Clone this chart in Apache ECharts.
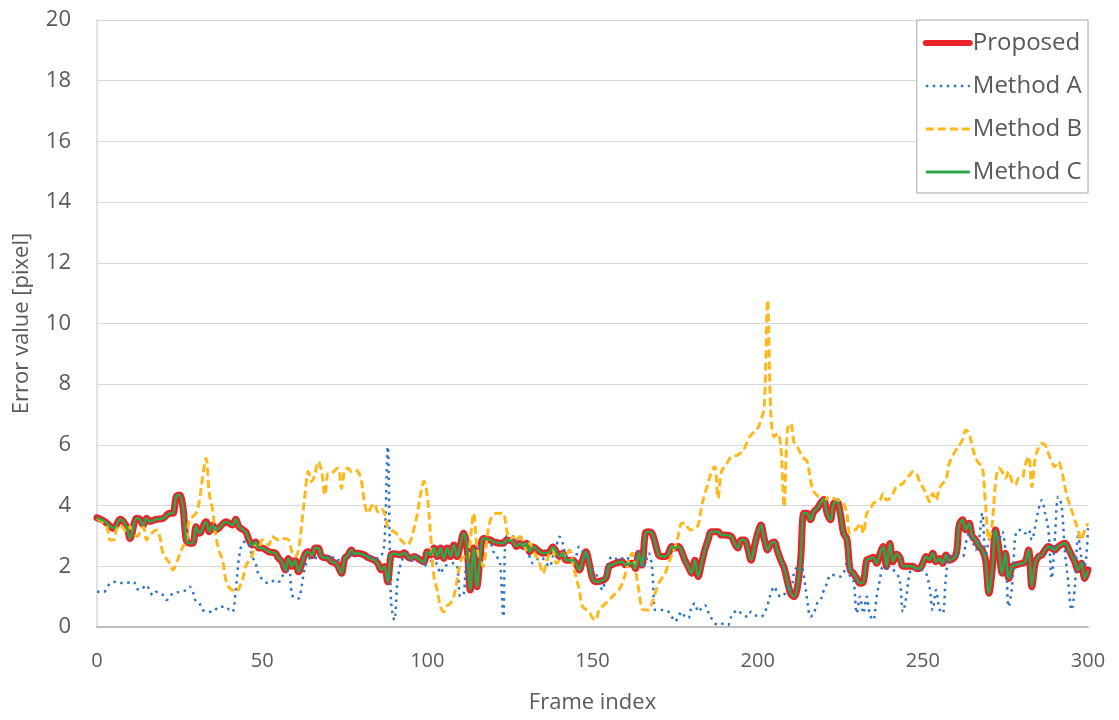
<!DOCTYPE html>
<html>
<head>
<meta charset="utf-8">
<script src="https://cdn.jsdelivr.net/npm/echarts@6/dist/echarts.min.js"></script>
<style>
  html, body { margin: 0; padding: 0; background: #ffffff; }
  #chart { width: 1119px; height: 720px; }
</style>
</head>
<body>
<div id="chart"></div>
<script>
// Per-frame tracking error, [frame index, error in pixels]
const proposed = [
  [0,3.6],[2,3.5],[3,3.42],[5,3.25],[7,3.55],[9,3.3],[10,2.92],[12,3.58],[13,3.55],[14,3.36],
  [15,3.58],[16,3.48],[18,3.55],[20,3.58],[22,3.75],[23,3.75],[24,4.3],[25,4.35],[26,3.96],[27,2.87],
  [28,2.76],[29,2.76],[30,3.3],[31,3.09],[33,3.47],[34,3.14],[35,3.36],[36,3.2],[38,3.39],[39,3.47],
  [41,3.36],[42,3.55],[43,3.3],[45,3.14],[46,2.87],[47,2.7],[48,2.8],[49,2.6],[50,2.6],[52,2.48],
  [54,2.43],[55,2.26],[56,2.15],[57,1.88],[58,2.26],[59,2.0],[60,2.2],[61,1.82],[62,2.1],[63,2.4],
  [64,2.48],[65,2.35],[66,2.6],[67,2.6],[68,2.32],[70,2.26],[71,2.15],[72,2.12],[73,2.0],[74,1.77],
  [75,2.26],[76,2.37],[77,2.54],[78,2.41],[79,2.43],[81,2.37],[82,2.29],[84,2.2],[85,2.1],[86,1.88],
  [87,1.99],[88,1.49],[89,2.37],[90,2.41],[92,2.37],[93,2.45],[94,2.32],[95,2.26],[96,2.32],[98,2.2],
  [99,2.15],[100,2.48],[101,2.37],[102,2.6],[103,2.32],[104,2.6],[105,2.26],[106,2.6],[107,2.32],[108,2.7],
  [109,2.32],[110,2.7],[111,3.09],[112,2.64],[113,1.22],[114,2.6],[115,1.33],[116,2.3],[117,2.92],[119,2.87],
  [120,2.81],[122,2.76],[123,2.76],[124,2.87],[126,2.81],[127,2.65],[128,2.76],[129,2.65],[130,2.76],[131,2.48],
  [132,2.64],[134,2.48],[135,2.43],[137,2.48],[138,2.64],[139,2.48],[140,2.32],[141,2.43],[142,2.2],[144,2.2],
  [145,2.1],[146,1.88],[147,2.2],[148,2.48],[149,2.1],[150,1.6],[151,1.49],[152,1.5],[154,1.6],[155,2.0],
  [156,2.05],[157,2.1],[159,2.15],[160,2.05],[162,2.1],[163,1.93],[164,2.43],[165,2.04],[166,3.09],[167,3.14],
  [168,3.09],[169,2.76],[170,2.37],[171,2.32],[172,2.32],[173,2.43],[174,2.65],[175,2.6],[176,2.65],[177,2.48],
  [178,2.2],[179,1.99],[180,1.77],[181,2.2],[182,1.66],[183,2.1],[184,2.54],[185,2.87],[186,3.14],[188,3.14],
  [189,3.03],[190,3.03],[192,2.98],[193,2.76],[194,2.6],[195,2.87],[196,2.87],[197,2.6],[198,2.2],[199,2.65],
  [200,3.09],[201,3.36],[202,2.9],[203,2.54],[204,2.75],[205,2.8],[206,2.5],[207,2.2],[208,1.95],[209,1.5],
  [210,1.1],[211,1.0],[212,1.3],[213,2.2],[214,3.75],[215,3.75],[216,3.53],[217,3.8],[218,3.9],[219,4.07],
  [220,4.2],[221,3.75],[222,3.53],[223,4.07],[224,4.13],[225,3.75],[226,3.09],[227,2.9],[228,1.88],[229,1.77],
  [230,1.6],[231,1.44],[232,1.49],[233,2.2],[234,2.25],[235,2.3],[236,2.1],[237,2.4],[238,2.65],[239,1.99],
  [240,2.75],[241,2.15],[242,2.4],[243,2.3],[244,2.0],[246,2.0],[247,2.0],[248,1.93],[249,1.93],[250,2.1],
  [251,2.32],[252,2.21],[253,2.43],[254,2.15],[255,2.26],[256,2.1],[257,2.37],[258,2.2],[260,2.37],[261,3.36],
  [262,3.53],[263,3.2],[264,3.42],[265,2.98],[266,2.87],[267,2.65],[268,2.54],[269,2.2],[270,1.11],[271,1.88],
  [272,3.2],[273,2.6],[274,1.77],[275,2.43],[276,1.6],[277,1.99],[278,2.04],[280,2.1],[281,2.15],[282,2.54],
  [283,1.33],[284,2.1],[285,2.32],[286,2.37],[287,2.54],[288,2.65],[290,2.54],[291,2.65],[293,2.76],[294,2.6],
  [295,2.37],[296,2.15],[297,1.88],[298,2.1],[299,1.6],[300,1.88]
];

const methodA = [
  [0,1.16],[2,1.16],[4,1.44],[6,1.49],[8,1.44],[11,1.49],[12,1.27],[13,1.22],[15,1.38],[16,1.16],
  [17,1.05],[18,1.16],[20,1.05],[21,0.89],[23,1.11],[25,1.16],[27,1.22],[28,1.33],[29,1.16],[30,0.83],
  [31,0.78],[32,0.56],[34,0.5],[35,0.5],[37,0.67],[39,0.67],[40,0.56],[41,0.5],[42,1.2],[43,2.3],
  [44,2.76],[45,2.81],[46,2.7],[47,2.32],[48,2.1],[49,1.71],[51,1.49],[52,1.44],[54,1.55],[55,1.49],
  [56,1.66],[58,1.88],[59,1.1],[60,0.94],[61,0.94],[62,1.38],[63,2.0],[64,2.2],[65,2.32],[67,2.26],
  [68,2.37],[70,2.32],[71,2.37],[72,2.2],[74,2.2],[76,2.32],[77,2.37],[79,2.43],[80,2.34],[82,2.37],
  [83,2.32],[85,2.26],[86,2.32],[87,2.76],[88,5.94],[89,0.89],[90,0.23],[91,1.55],[92,2.1],[93,2.32],
  [94,2.37],[95,2.2],[97,2.32],[98,2.2],[99,2.0],[100,2.1],[102,2.2],[103,2.04],[104,1.77],[105,1.99],
  [106,2.04],[108,2.1],[109,2.04],[110,1.0],[111,1.1],[112,2.1],[113,2.0],[114,2.32],[115,2.43],[116,2.65],
  [118,2.7],[119,2.76],[120,2.48],[121,2.32],[122,2.1],[123,0.34],[124,3.0],[126,2.98],[127,2.87],[128,3.03],
  [129,2.76],[130,2.65],[131,2.3],[132,2.1],[133,2.2],[134,2.3],[135,2.26],[136,2.1],[137,1.99],[138,2.32],
  [139,2.65],[140,2.97],[141,2.76],[142,2.32],[143,2.32],[144,2.1],[145,2.32],[146,2.65],[147,2.5],[148,2.32],
  [149,2.1],[150,1.88],[151,1.77],[152,1.44],[153,1.22],[154,1.77],[155,2.2],[156,2.32],[158,2.2],[159,2.26],
  [160,2.32],[162,2.1],[163,2.43],[164,2.48],[165,1.93],[166,2.1],[167,2.43],[168,1.99],[169,0.56],[170,0.56],
  [171,0.56],[173,0.5],[174,0.34],[175,0.18],[176,0.34],[177,0.5],[178,0.34],[179,0.29],[180,0.67],[181,0.78],
  [182,0.5],[183,0.62],[184,0.72],[185,0.5],[186,0.29],[188,0.07],[190,0.12],[191,0.07],[192,0.34],[194,0.56],
  [195,0.45],[197,0.34],[198,0.5],[199,0.4],[201,0.34],[202,0.45],[203,0.73],[204,1.11],[205,1.33],[206,1.11],
  [207,1.0],[208,1.05],[209,1.33],[210,1.22],[211,1.77],[212,1.99],[213,2.1],[214,1.66],[215,0.89],[216,0.34],
  [217,0.45],[218,0.78],[219,0.89],[220,1.2],[221,1.44],[222,1.71],[223,1.71],[225,1.66],[226,1.77],[227,2.1],
  [228,1.66],[229,1.55],[230,0.45],[231,1.0],[232,0.45],[233,1.0],[234,0.4],[235,0.23],[236,1.0],[237,1.55],
  [238,1.99],[240,1.9],[241,1.88],[242,1.77],[243,1.55],[244,0.5],[245,1.0],[246,1.77],[247,1.93],[249,1.88],
  [250,1.88],[251,1.77],[252,1.33],[253,0.56],[254,1.22],[255,0.6],[256,0.45],[257,1.66],[258,2.3],[260,2.37],
  [262,2.32],[263,2.76],[264,3.09],[265,2.87],[266,2.54],[267,2.87],[268,3.75],[269,2.32],[270,2.87],[271,3.09],
  [272,3.09],[273,2.87],[274,3.14],[275,2.5],[276,0.67],[277,1.33],[278,2.98],[279,3.2],[280,3.2],[281,3.09],
  [282,3.2],[283,2.87],[284,3.3],[285,3.86],[286,4.18],[287,3.75],[288,3.2],[289,1.6],[290,3.0],[291,4.29],
  [292,4.0],[293,2.5],[294,1.5],[295,0.56],[296,1.3],[297,3.0],[298,2.3],[299,1.99],[300,3.3]
];

const methodB = [
  [0,3.58],[2,3.42],[3,3.31],[4,2.87],[5,2.87],[6,3.25],[7,3.36],[9,3.14],[10,3.3],[11,3.14],
  [12,2.98],[14,3.3],[15,2.87],[16,3.03],[18,3.2],[19,2.98],[20,2.43],[22,2.1],[23,1.88],[24,2.1],
  [26,2.65],[27,2.76],[28,3.52],[30,3.75],[31,4.18],[32,4.95],[33,5.56],[34,4.4],[35,3.85],[36,2.98],
  [37,2.5],[38,2.2],[39,1.55],[40,1.3],[41,1.22],[42,1.16],[44,1.55],[45,1.99],[47,2.37],[48,2.76],
  [49,2.6],[50,2.87],[52,2.7],[53,2.98],[55,2.87],[56,2.92],[58,2.87],[59,2.48],[60,2.32],[61,2.54],
  [62,3.42],[63,4.4],[64,5.12],[65,4.79],[66,5.06],[67,5.45],[68,5.12],[69,4.35],[70,5.06],[71,5.06],
  [72,5.17],[73,5.23],[74,4.57],[75,5.17],[76,5.23],[77,5.12],[78,5.17],[79,5.12],[80,4.84],[81,4.07],
  [82,3.75],[83,3.96],[84,4.07],[85,3.8],[86,3.9],[87,3.75],[88,3.31],[89,3.2],[90,3.14],[91,3.03],
  [92,2.87],[93,2.76],[94,2.7],[95,2.87],[96,3.25],[97,3.75],[98,4.4],[99,4.8],[100,4.3],[101,3.0],
  [102,1.66],[103,1.2],[104,0.67],[105,0.5],[106,0.7],[107,0.78],[108,1.0],[109,1.55],[110,2.1],[111,2.32],
  [112,2.2],[113,2.87],[114,3.75],[115,2.65],[116,2.2],[117,2.0],[118,2.87],[119,3.5],[120,3.7],[121,3.75],
  [122,3.75],[123,3.75],[124,3.2],[125,2.87],[126,2.98],[127,2.87],[128,2.98],[129,2.76],[130,2.54],[131,2.76],
  [132,2.54],[133,2.32],[134,2.1],[135,1.77],[136,2.1],[137,2.43],[138,2.54],[139,2.1],[140,2.2],[141,2.43],
  [142,2.32],[143,2.54],[144,2.1],[145,1.66],[146,1.22],[147,0.67],[149,0.5],[150,0.3],[151,0.23],[152,0.56],
  [154,0.78],[155,0.89],[157,1.11],[158,1.22],[159,1.44],[160,1.77],[161,2.2],[162,2.43],[163,1.88],[164,1.22],
  [165,0.6],[166,0.56],[167,0.56],[168,0.78],[169,1.11],[170,1.44],[172,1.77],[173,2.1],[174,2.37],[175,2.65],
  [176,3.03],[177,3.42],[178,3.42],[179,3.25],[180,3.2],[181,3.25],[182,3.36],[183,3.96],[184,4.4],[185,4.73],
  [186,5.12],[187,5.28],[188,4.24],[189,5.12],[190,5.28],[191,5.45],[192,5.61],[194,5.67],[196,5.89],[197,6.16],
  [198,6.33],[200,6.55],[201,6.82],[202,7.26],[203,10.77],[204,7.0],[205,6.27],[206,6.38],[207,5.94],[208,3.96],
  [209,6.49],[210,6.71],[211,6.1],[212,5.94],[213,5.72],[214,5.56],[215,5.45],[216,4.84],[217,4.46],[219,4.24],
  [220,4.18],[222,4.29],[223,4.24],[225,4.13],[226,4.07],[227,3.75],[228,3.09],[230,3.25],[231,3.42],[232,3.09],
  [233,3.75],[234,3.86],[235,4.07],[237,4.18],[238,4.4],[239,4.18],[240,4.24],[241,4.4],[242,4.62],[244,4.73],
  [245,4.9],[246,5.0],[247,5.12],[248,5.06],[249,4.8],[250,4.6],[251,4.4],[252,4.13],[253,4.4],[254,4.18],
  [255,4.57],[256,4.73],[257,4.84],[258,5.39],[260,5.83],[262,6.16],[263,6.49],[264,6.38],[265,5.94],[266,5.56],
  [267,5.39],[268,5.28],[269,4.0],[270,2.87],[271,3.4],[272,4.73],[273,5.23],[274,5.12],[275,4.9],[276,5.12],
  [277,4.79],[278,4.68],[279,4.9],[280,4.9],[281,5.34],[282,5.61],[283,4.62],[284,5.56],[285,5.9],[286,6.05],
  [287,6.0],[288,5.72],[290,5.28],[291,5.45],[292,5.17],[293,4.62],[294,4.18],[295,3.86],[296,3.53],[297,3.2],
  [298,2.87],[299,3.2],[300,3.42]
];

// Method C runs on top of the proposed curve
const methodC = [
  [0,3.6],[2,3.5],[3,3.42],[5,3.25],[7,3.55],[9,3.3],[10,2.92],[12,3.58],[13,3.55],[14,3.36],
  [15,3.58],[16,3.48],[18,3.55],[20,3.58],[22,3.75],[23,3.75],[24,4.3],[25,4.35],[26,3.96],[27,2.87],
  [28,2.76],[29,2.76],[30,3.3],[31,3.09],[33,3.47],[34,3.14],[35,3.36],[36,3.2],[38,3.39],[39,3.47],
  [41,3.36],[42,3.55],[43,3.3],[45,3.14],[46,2.87],[47,2.7],[48,2.8],[49,2.6],[50,2.6],[52,2.48],
  [54,2.43],[55,2.26],[56,2.15],[57,1.88],[58,2.26],[59,2.0],[60,2.2],[61,1.82],[62,2.1],[63,2.4],
  [64,2.48],[65,2.35],[66,2.6],[67,2.6],[68,2.32],[70,2.26],[71,2.15],[72,2.12],[73,2.0],[74,1.77],
  [75,2.26],[76,2.37],[77,2.54],[78,2.41],[79,2.43],[81,2.37],[82,2.29],[84,2.2],[85,2.1],[86,1.88],
  [87,1.99],[88,1.49],[89,2.37],[90,2.41],[92,2.37],[93,2.45],[94,2.32],[95,2.26],[96,2.32],[98,2.2],
  [99,2.15],[100,2.48],[101,2.37],[102,2.6],[103,2.32],[104,2.6],[105,2.26],[106,2.6],[107,2.32],[108,2.7],
  [109,2.32],[110,2.7],[111,3.09],[112,2.64],[113,1.22],[114,2.6],[115,1.33],[116,2.3],[117,2.92],[119,2.87],
  [120,2.81],[122,2.76],[123,2.76],[124,2.87],[126,2.81],[127,2.65],[128,2.76],[129,2.65],[130,2.76],[131,2.48],
  [132,2.64],[134,2.48],[135,2.43],[137,2.48],[138,2.64],[139,2.48],[140,2.32],[141,2.43],[142,2.2],[144,2.2],
  [145,2.1],[146,1.88],[147,2.2],[148,2.48],[149,2.1],[150,1.6],[151,1.49],[152,1.5],[154,1.6],[155,2.0],
  [156,2.05],[157,2.1],[159,2.15],[160,2.05],[162,2.1],[163,1.93],[164,2.43],[165,2.04],[166,3.09],[167,3.14],
  [168,3.09],[169,2.76],[170,2.37],[171,2.32],[172,2.32],[173,2.43],[174,2.65],[175,2.6],[176,2.65],[177,2.48],
  [178,2.2],[179,1.99],[180,1.77],[181,2.2],[182,1.66],[183,2.1],[184,2.54],[185,2.87],[186,3.14],[188,3.14],
  [189,3.03],[190,3.03],[192,2.98],[193,2.76],[194,2.6],[195,2.87],[196,2.87],[197,2.6],[198,2.2],[199,2.65],
  [200,3.09],[201,3.36],[202,2.9],[203,2.54],[204,2.75],[205,2.8],[206,2.5],[207,2.2],[208,1.95],[209,1.5],
  [210,1.1],[211,1.0],[212,1.3],[213,2.2],[214,3.75],[215,3.75],[216,3.53],[217,3.8],[218,3.9],[219,4.07],
  [220,4.2],[221,3.75],[222,3.53],[223,4.07],[224,4.13],[225,3.75],[226,3.09],[227,2.9],[228,1.88],[229,1.77],
  [230,1.6],[231,1.44],[232,1.49],[233,2.2],[234,2.25],[235,2.3],[236,2.1],[237,2.4],[238,2.65],[239,1.99],
  [240,2.75],[241,2.15],[242,2.4],[243,2.3],[244,2.0],[246,2.0],[247,2.0],[248,1.93],[249,1.93],[250,2.1],
  [251,2.32],[252,2.21],[253,2.43],[254,2.15],[255,2.26],[256,2.1],[257,2.37],[258,2.2],[260,2.37],[261,3.36],
  [262,3.53],[263,3.2],[264,3.42],[265,2.98],[266,2.87],[267,2.65],[268,2.54],[269,2.2],[270,1.11],[271,1.88],
  [272,3.2],[273,2.6],[274,1.77],[275,2.43],[276,1.6],[277,1.99],[278,2.04],[280,2.1],[281,2.15],[282,2.54],
  [283,1.33],[284,2.1],[285,2.32],[286,2.37],[287,2.54],[288,2.65],[290,2.54],[291,2.65],[293,2.76],[294,2.6],
  [295,2.37],[296,2.15],[297,1.88],[298,2.1],[299,1.6],[300,1.88]
];

const seriesNames = ['Proposed', 'Method A', 'Method B', 'Method C'];
const xRange = [0, 300, 50];   // min, max, tick step
const yRange = [0, 20, 2];

const FONT = '"Open Sans", "Liberation Sans", sans-serif';
const TEXT = '#595959';

const chart = echarts.init(document.getElementById('chart'), null, { renderer: 'canvas' });

chart.setOption({
  animation: false,
  backgroundColor: '#ffffff',
  textStyle: { fontFamily: FONT },
  grid: { left: 97, right: 31, top: 20, bottom: 93, containLabel: false },
  xAxis: {
    type: 'value',
    min: xRange[0], max: xRange[1], interval: xRange[2],
    name: 'Frame index',
    nameLocation: 'middle',
    nameGap: 65,
    nameTextStyle: { fontSize: 22, color: TEXT, fontFamily: FONT },
    axisLine: { show: true, lineStyle: { color: '#BFBFBF', width: 2 } },
    axisTick: { show: false },
    axisLabel: { fontSize: 20, color: TEXT, margin: 24, fontFamily: FONT },
    splitLine: { show: false }
  },
  yAxis: {
    type: 'value',
    min: yRange[0], max: yRange[1], interval: yRange[2],
    name: 'Error value [pixel]',
    nameLocation: 'middle',
    nameGap: 64,
    nameTextStyle: { fontSize: 22, color: TEXT, fontFamily: FONT },
    axisLine: { show: true, lineStyle: { color: '#D9D9D9', width: 1.5 } },
    axisTick: { show: false },
    axisLabel: { fontSize: 22, color: TEXT, margin: 26, fontFamily: FONT },
    splitLine: { show: true, lineStyle: { color: '#D9D9D9', width: 1.2 } }
  },
  legend: {
    data: [
      { name: seriesNames[0], lineStyle: { width: 6, cap: 'round' } },
      { name: seriesNames[1], lineStyle: { width: 2.5 } },
      { name: seriesNames[2], lineStyle: { width: 3 } },
      { name: seriesNames[3], lineStyle: { width: 3 } }
    ],
    orient: 'vertical',
    right: 31,
    top: 20,
    itemWidth: 44,
    itemHeight: 14,
    itemGap: 17,
    padding: [10, 6, 8, 6],
    borderColor: '#A6A6A6',
    borderWidth: 1,
    backgroundColor: '#ffffff',
    itemStyle: { opacity: 0 },
    textStyle: { fontSize: 24, color: TEXT, fontFamily: FONT, lineHeight: 26, padding: [0, 0, 0, -2] }
  },
  series: [
    {
      name: seriesNames[0], type: 'line', data: proposed, symbol: 'none', smooth: 0.35,
      lineStyle: { color: '#E8242A', width: 7, cap: 'round', join: 'round' },
      itemStyle: { color: '#E8242A' }
    },
    {
      name: seriesNames[1], type: 'line', data: methodA, symbol: 'none', smooth: 0.35,
      lineStyle: { color: '#2E75C6', width: 2.5, type: [2.5, 4.5] },
      itemStyle: { color: '#2E75C6' }
    },
    {
      name: seriesNames[2], type: 'line', data: methodB, symbol: 'none', smooth: 0.35,
      lineStyle: { color: '#FFB81C', width: 3, type: [8, 4] },
      itemStyle: { color: '#FFB81C' }
    },
    {
      name: seriesNames[3], type: 'line', data: methodC, symbol: 'none', smooth: 0.35,
      lineStyle: { color: '#2EA64A', width: 2.5, join: 'round' },
      itemStyle: { color: '#2EA64A' }
    }
  ]
});
</script>
</body>
</html>
